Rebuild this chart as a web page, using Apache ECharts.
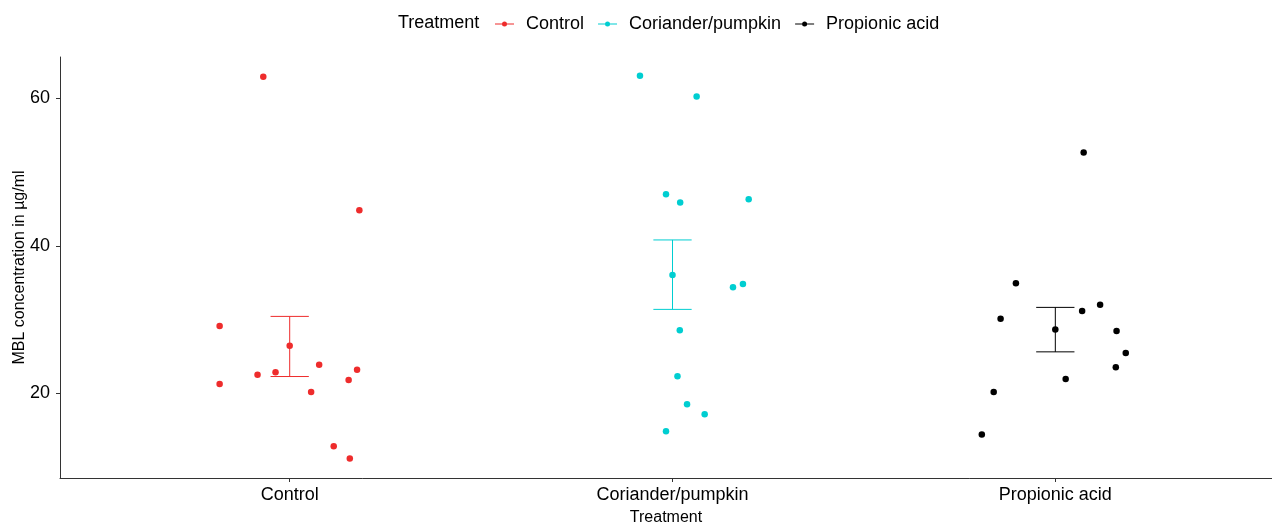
<!DOCTYPE html>
<html>
<head>
<meta charset="utf-8">
<script src="https://cdn.jsdelivr.net/npm/echarts@6/dist/echarts.min.js"></script>
<style>
  html, body { margin: 0; padding: 0; background: #fff; }
  #chart { width: 1272px; height: 524px; }
</style>
</head>
<body>
<div id="chart"></div>
<script>
// Treatment groups, in axis order (x = 1, 2, 3)
const categories = ['Control', 'Coriander/pumpkin', 'Propionic acid'];
const colors = ['#EE2C2C', '#00CED1', '#000000'];

// Individual MBL measurements (µg/ml) and their horizontal jitter offsets
const controlValues = [62.89, 44.81, 29.13, 23.88, 22.89, 22.53, 23.2, 21.84, 21.3, 20.22, 12.85, 11.19];
const controlJitter = [-0.069, 0.182, -0.183, 0.077, -0.037, -0.084, 0.176, 0.154, -0.183, 0.056, 0.115, 0.157];

const corianderValues = [63.02, 60.22, 46.98, 45.85, 46.3, 34.37, 34.82, 28.58, 22.34, 18.55, 17.19, 14.89];
const corianderJitter = [-0.085, 0.063, -0.017, 0.02, 0.199, 0.158, 0.184, 0.019, 0.013, 0.038, 0.084, -0.017];

const propionicValues = [52.62, 34.92, 30.12, 31.16, 32.02, 28.45, 25.47, 23.57, 21.98, 20.22, 14.44];
const propionicJitter = [0.074, -0.103, -0.143, 0.07, 0.117, 0.16, 0.184, 0.158, 0.027, -0.161, -0.192];

// Group mean and mean ± standard error
const groupMeans = [26.46, 36.04, 28.68];
const seLower = [22.3, 31.39, 25.64];
const seUpper = [30.44, 40.79, 31.66];

// Axis ticks
const yTicks = [20, 40, 60];
const xTicks = [1, 2, 3];

const FONT = "'Liberation Sans', Arial, sans-serif";
const capHalfWidth = 0.05;

const groups = [
  { values: controlValues, jitter: controlJitter },
  { values: corianderValues, jitter: corianderJitter },
  { values: propionicValues, jitter: propionicJitter }
];

// Legend key: short horizontal line with a dot in the middle
const keyIcon = 'path://M0,3.5L19,3.5L19,4.5L0,4.5Z M12,4 A2.5,2.5 0 1 1 7,4 A2.5,2.5 0 1 1 12,4Z';

const series = [];
groups.forEach((g, i) => {
  const name = categories[i];
  const pos = i + 1;
  series.push({
    name: name,
    type: 'scatter',
    symbol: 'circle',
    symbolSize: 6.5,
    itemStyle: { color: colors[i], opacity: 1 },
    emphasis: { disabled: true },
    data: g.values.map((v, k) => [pos + g.jitter[k], v]),
    z: 3
  });
  series.push({
    name: name,
    type: 'custom',
    itemStyle: { color: colors[i] },
    renderItem: function (params, api) {
      const x = api.value(0), lo = api.value(1), hi = api.value(2);
      const pLo = api.coord([x, lo]);
      const pHi = api.coord([x, hi]);
      const l = api.coord([x - capHalfWidth, lo])[0];
      const r = api.coord([x + capHalfWidth, lo])[0];
      const style = { stroke: colors[i], lineWidth: 1, fill: null };
      return {
        type: 'group',
        children: [
          { type: 'line', shape: { x1: pLo[0], y1: pLo[1], x2: pHi[0], y2: pHi[1] }, style: style },
          { type: 'line', shape: { x1: l, y1: pLo[1], x2: r, y2: pLo[1] }, style: style },
          { type: 'line', shape: { x1: l, y1: pHi[1], x2: r, y2: pHi[1] }, style: style }
        ]
      };
    },
    encode: { x: 0, y: [1, 2] },
    data: [[pos, seLower[i], seUpper[i]]],
    z: 2
  });
  series.push({
    name: name,
    type: 'scatter',
    symbol: 'circle',
    symbolSize: 6.5,
    itemStyle: { color: colors[i], opacity: 1 },
    emphasis: { disabled: true },
    data: [[pos, groupMeans[i]]],
    z: 4
  });
});

const chart = echarts.init(document.getElementById('chart'), null, { renderer: 'canvas' });
chart.setOption({
  animation: false,
  backgroundColor: '#ffffff',
  title: {
    text: 'Treatment',
    left: 398,
    top: 14,
    padding: 0,
    textStyle: { fontFamily: FONT, fontSize: 18, fontWeight: 'normal', color: '#000' }
  },
  legend: {
    left: 495,
    top: 15,
    padding: 0,
    itemWidth: 19,
    itemHeight: 5,
    itemGap: 14,
    selectedMode: false,
    textStyle: { fontFamily: FONT, fontSize: 18, color: '#000', padding: [0, 0, 0, 7] },
    data: categories.map(c => ({ name: c, icon: keyIcon }))
  },
  grid: { left: 60, right: 0, top: 57, bottom: 46, containLabel: false, outerBoundsMode: 'none' },
  xAxis: {
    type: 'value',
    min: 0.4,
    max: 3.566,
    name: 'Treatment',
    nameLocation: 'middle',
    nameGap: 32,
    nameTextStyle: { fontFamily: FONT, fontSize: 16, color: '#000' },
    splitLine: { show: false },
    axisLine: { show: true, onZero: false, lineStyle: { color: '#333', width: 1 } },
    axisTick: { show: true, length: 4, customValues: xTicks, lineStyle: { color: '#333' } },
    axisLabel: {
      customValues: xTicks,
      margin: 8,
      fontFamily: FONT, fontSize: 18, color: '#000',
      formatter: v => categories[Math.round(v) - 1]
    }
  },
  yAxis: {
    type: 'value',
    min: 8.56,
    max: 65.56,
    name: 'MBL concentration in µg/ml',
    nameLocation: 'middle',
    nameRotate: 90,
    nameGap: 32,
    nameMoveOverlap: false,
    nameTextStyle: { fontFamily: FONT, fontSize: 16, color: '#000' },
    splitLine: { show: false },
    axisLine: { show: true, onZero: false, lineStyle: { color: '#333', width: 1 } },
    axisTick: { show: true, length: 4, customValues: yTicks, lineStyle: { color: '#333' } },
    axisLabel: {
      customValues: yTicks,
      margin: 10,
      fontFamily: FONT, fontSize: 18, color: '#000'
    }
  },
  series: series
});
</script>
</body>
</html>
